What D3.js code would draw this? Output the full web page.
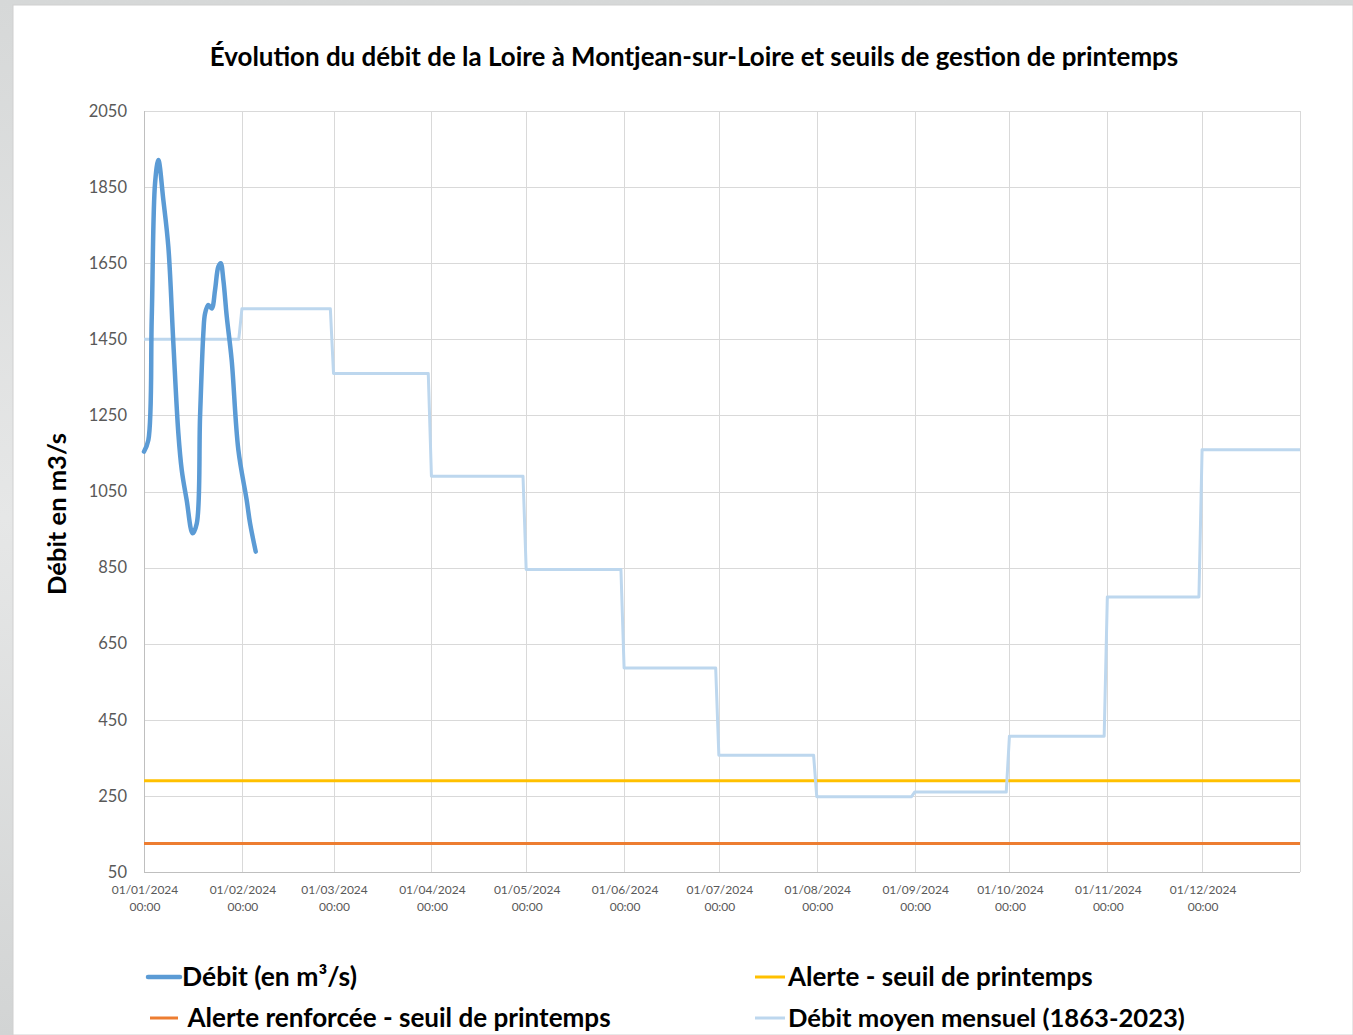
<!DOCTYPE html>
<html>
<head>
<meta charset="utf-8">
<script src="https://cdn.jsdelivr.net/npm/d3@7"></script>
<style>
  html, body { margin: 0; padding: 0; background: #dcdcdc; }
  svg { display: block; }
</style>
</head>
<body>
<svg id="chart" width="1353" height="1035"></svg>
<script>
// ---------------- DATA ----------------
const chartTitle = "Évolution du débit de la Loire à Montjean-sur-Loire et seuils de gestion de printemps";
const yAxisTitle = "Débit en m3/s";
const yTicks = [50, 250, 450, 650, 850, 1050, 1250, 1450, 1650, 1850, 2050];
const monthStarts = ["2024-01-01","2024-02-01","2024-03-01","2024-04-01","2024-05-01","2024-06-01",
                     "2024-07-01","2024-08-01","2024-09-01","2024-10-01","2024-11-01","2024-12-01"];
const xTickLabels = ["01/01/2024","01/02/2024","01/03/2024","01/04/2024","01/05/2024","01/06/2024",
                     "01/07/2024","01/08/2024","01/09/2024","01/10/2024","01/11/2024","01/12/2024"];
const xTickSub = "00:00";
const monthlyMean = [1450, 1530, 1360, 1090, 845, 586, 357, 248, 260, 407, 773, 1160];
const alerteValue = 290;
const alerteRenforceeValue = 125;
// observed discharge (timestamps, m3/s)
const debitDates = ["2024-01-01T00:00","2024-01-02T09:00","2024-01-03T11:00","2024-01-04T12:00",
  "2024-01-05T13:00","2024-01-07T03:00","2024-01-08T17:00","2024-01-10T07:00","2024-01-11T21:00",
  "2024-01-12T23:00","2024-01-14T12:00","2024-01-16T09:00","2024-01-17T17:00","2024-01-18T18:00",
  "2024-01-19T19:00","2024-01-20T08:00","2024-01-21T09:00","2024-01-22T11:00","2024-01-23T12:00",
  "2024-01-24T13:00","2024-01-25T07:00","2024-01-26T03:00","2024-01-27T05:00","2024-01-28T18:00",
  "2024-01-30T21:00","2024-02-02T12:00","2024-02-03T14:00","2024-02-05T09:00"];
const debitValues = [1155, 1185, 1509, 1860, 1921, 1816, 1693, 1440, 1203, 1106, 1028, 940, 966, 1247,
  1466, 1518, 1540, 1531, 1580, 1641, 1650, 1606, 1509, 1396, 1159, 1028, 966, 892];
const legendLabels = ["Débit (en m³/s)", "Alerte - seuil de printemps",
                      " Alerte renforcée - seuil de printemps", "Débit moyen mensuel (1863-2023)"];
const colors = { debit: "#5B9BD5", alerte: "#FFC000", renforcee: "#ED7D31", moyen: "#BDD7EE" };

// ---------------- LAYOUT ----------------
const W = 1353, H = 1035;
const plot = { left: 144, right: 1300, top: 111, bottom: 872 };
const FONT = "Lato, 'Open Sans', 'Noto Sans', sans-serif";

const svg = d3.select("#chart");
const parse = d3.isoParse;

// background
const defs = svg.append("defs");
const grad = defs.append("linearGradient").attr("id", "bg").attr("x1", 0).attr("y1", 0).attr("x2", 0).attr("y2", 1);
grad.append("stop").attr("offset", "0%").attr("stop-color", "#d6d8d8");
grad.append("stop").attr("offset", "50%").attr("stop-color", "#e6e7e7");
grad.append("stop").attr("offset", "100%").attr("stop-color", "#d2d4d4");
svg.append("rect").attr("width", W).attr("height", H).attr("fill", "url(#bg)");
svg.append("rect").attr("x", 13).attr("y", 5).attr("width", W - 13).attr("height", H - 5)
  .attr("fill", "#ffffff").attr("stroke", "#d0d0d0").attr("stroke-width", 1);

const x = d3.scaleTime()
  .domain([parse("2024-01-01T00:00"), parse("2025-01-01T00:00")])
  .range([plot.left, plot.right]);
const y = d3.scaleLinear().domain([50, 2050]).range([plot.bottom, plot.top]);

// gridlines
const grid = svg.append("g");
grid.selectAll("line.h").data(yTicks.slice(1)).join("line")
  .attr("x1", plot.left).attr("x2", plot.right)
  .attr("y1", d => Math.round(y(d)) + 0.5).attr("y2", d => Math.round(y(d)) + 0.5)
  .attr("stroke", "#d9d9d9").attr("stroke-width", 1);
const vgrid = monthStarts.slice(1).map(parse).concat([parse("2025-01-01T00:00")]);
grid.selectAll("line.v").data(vgrid).join("line")
  .attr("y1", plot.top).attr("y2", plot.bottom)
  .attr("x1", d => Math.round(x(d)) + 0.5).attr("x2", d => Math.round(x(d)) + 0.5)
  .attr("stroke", "#d9d9d9").attr("stroke-width", 1);
// axis lines
svg.append("line").attr("x1", plot.left + 0.5).attr("x2", plot.left + 0.5)
  .attr("y1", plot.top).attr("y2", plot.bottom).attr("stroke", "#bfbfbf");
svg.append("line").attr("x1", plot.left).attr("x2", plot.right)
  .attr("y1", plot.bottom + 0.5).attr("y2", plot.bottom + 0.5).attr("stroke", "#bfbfbf");

// Y axis via d3.axisLeft
const yAxis = d3.axisLeft(y).tickValues(yTicks).tickSize(0).tickPadding(17).tickFormat(d3.format("d"));
const yg = svg.append("g").attr("transform", `translate(${plot.left},0)`).call(yAxis);
yg.select(".domain").remove();
yg.selectAll("text").attr("font-family", FONT).attr("font-size", 16.5).attr("fill", "#595959");

// X axis via d3.axisBottom
const xAxis = d3.axisBottom(x).tickValues(monthStarts.map(parse)).tickSize(0).tickFormat("");
const xg = svg.append("g").attr("transform", `translate(0.5,${plot.bottom})`).call(xAxis);
xg.select(".domain").remove();
xg.selectAll(".tick").each(function(d, i) {
  const t = d3.select(this);
  t.append("text").attr("y", 22).attr("text-anchor", "middle").attr("font-family", FONT)
    .attr("font-size", 12).attr("fill", "#595959").text(xTickLabels[i]);
  t.append("text").attr("y", 39).attr("text-anchor", "middle").attr("font-family", FONT)
    .attr("font-size", 12).attr("fill", "#595959").text(xTickSub);
});

// threshold lines
const xStart = parse("2024-01-01T00:00"), xEnd = parse("2025-01-01T00:00");
[[alerteRenforceeValue, colors.renforcee], [alerteValue, colors.alerte]].forEach(([v, c]) => {
  svg.append("line").attr("x1", x(xStart)).attr("x2", x(xEnd))
    .attr("y1", y(v)).attr("y2", y(v)).attr("stroke", c).attr("stroke-width", 3);
});

// monthly mean step line: value held from first to last day of each month
const meanPts = [];
monthStarts.forEach((m, i) => {
  const s = parse(m + "T00:00");
  const e = i < 11 ? d3.timeDay.offset(parse(monthStarts[i + 1] + "T00:00"), -1) : parse("2025-01-01T00:00");
  meanPts.push({ d: s, v: monthlyMean[i] });
  meanPts.push({ d: e, v: monthlyMean[i] });
});
const line = d3.line().x(p => x(p.d)).y(p => y(p.v));
svg.append("path").datum(meanPts).attr("d", line).attr("fill", "none")
  .attr("stroke", colors.moyen).attr("stroke-width", 3).attr("stroke-linejoin", "round");

// observed discharge, smoothed
const debitPts = debitDates.map((d, i) => ({ d: parse(d), v: debitValues[i] }));
svg.append("path").datum(debitPts)
  .attr("d", d3.line().x(p => x(p.d)).y(p => y(p.v)).curve(d3.curveCatmullRom.alpha(0.5)))
  .attr("fill", "none").attr("stroke", colors.debit).attr("stroke-width", 4.5)
  .attr("stroke-linejoin", "round").attr("stroke-linecap", "round");

// helper to fit text width by adjusting font size
function fitText(sel, width) {
  const w = sel.node().getComputedTextLength();
  const fs = parseFloat(sel.attr("font-size"));
  sel.attr("font-size", fs * width / w);
}

// title
const title = svg.append("text").attr("x", 694).attr("y", 66).attr("text-anchor", "middle")
  .attr("font-family", FONT).attr("font-weight", "bold").attr("font-size", 24).attr("fill", "#000")
  .text(chartTitle);
fitText(title, 969);

// y axis title
const yt = svg.append("text").attr("transform", "translate(66,514) rotate(-90)").attr("text-anchor", "middle")
  .attr("font-family", FONT).attr("font-weight", "bold").attr("font-size", 22).attr("fill", "#000")
  .text(yAxisTitle);
fitText(yt, 162);

// legend
const legendItems = [
  { label: legendLabels[0], color: colors.debit, lx1: 148, lx2: 180, tx: 182, y: 977, w: 175, sw: 4.5 },
  { label: legendLabels[1], color: colors.alerte, lx1: 755, lx2: 785, tx: 788, y: 977, w: 305, sw: 3 },
  { label: legendLabels[2], color: colors.renforcee, lx1: 150, lx2: 178, tx: 182, y: 1018, w: 429, sw: 3 },
  { label: legendLabels[3], color: colors.moyen, lx1: 755, lx2: 785, tx: 788, y: 1018, w: 397, sw: 3 }
];
const lg = svg.append("g");
legendItems.forEach(it => {
  lg.append("line").attr("x1", it.lx1).attr("x2", it.lx2).attr("y1", it.y).attr("y2", it.y)
    .attr("stroke", it.color).attr("stroke-width", it.sw).attr("stroke-linecap", it.sw > 4 ? "round" : "butt");
  const t = lg.append("text").attr("x", it.tx).attr("y", it.y + 9).attr("font-family", FONT)
    .attr("font-weight", "bold").attr("font-size", 24).attr("fill", "#000")
    .attr("xml:space", "preserve").style("white-space", "pre").text(it.label);
  fitText(t, it.w);
});
</script>
</body>
</html>
